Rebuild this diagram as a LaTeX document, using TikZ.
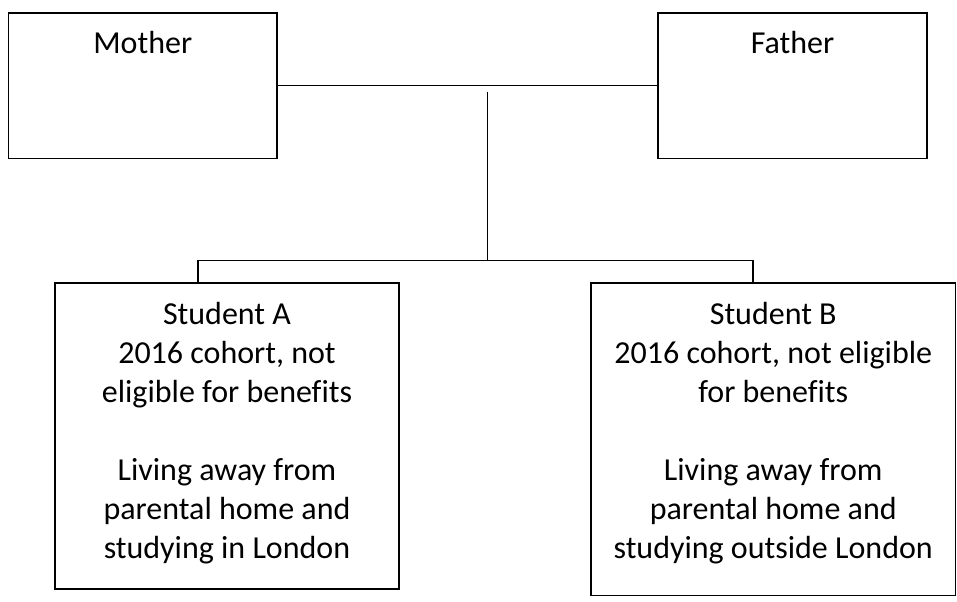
\documentclass[tikz,border=0pt]{standalone}
\usepackage{fontspec}
\setmainfont[Ligatures=NoCommon]{Carlito}
\begin{document}
\begin{tikzpicture}[x=0.75pt,y=-0.75pt,
  box/.style={draw=black,line width=1.3pt,fill=white,inner sep=0pt},
  conn/.style={draw=black,line width=1.1pt},
  lbl/.style={inner sep=0pt,align=center,font=\fontsize{24}{29.25}\selectfont}]
\useasboundingbox[fill=white] (0,0) rectangle (957,602);
% boxes
\node[box,minimum width=201.4pt,minimum height=109.35pt] (mother) at (142.75,85.6) {};
\node[box,minimum width=201.4pt,minimum height=109.35pt] (father) at (792.5,85.6) {};
\node[box,minimum width=258pt,minimum height=229.5pt] (studA) at (227,436) {};
\node[box,minimum width=273.4pt,minimum height=234.4pt] (studB) at (773.25,439.25) {};
% texts
\node[lbl,anchor=base] (mothertxt) at (142.75,54) {Mother};
\node[lbl,anchor=base] (fathertxt) at (792.5,54) {Father};
\node[lbl,anchor=north] (studAtxt) at (227,302.5) {Student A\\2016 cohort, not\\eligible for benefits\\[29.25pt]Living away from\\parental home and\\studying in London};
\node[lbl,anchor=north] (studBtxt) at (773.25,302.5) {Student B\\2016 cohort, not eligible\\for benefits\\[29.25pt]Living away from\\parental home and\\studying outside London};
% connectors
\coordinate (jtop) at (487.5,91.7);
\coordinate (jmid) at (487.5,260.5);
\coordinate (dropA) at (198,260.5);
\coordinate (dropB) at (753,260.5);
\draw[conn] (mother.east) -- (father.west);
\draw[conn] (jtop) -- (jmid);
\draw[conn] (dropA |- studA.north) -- (dropA) -- (dropB) -- (dropB |- studB.north);
\end{tikzpicture}
\end{document}
